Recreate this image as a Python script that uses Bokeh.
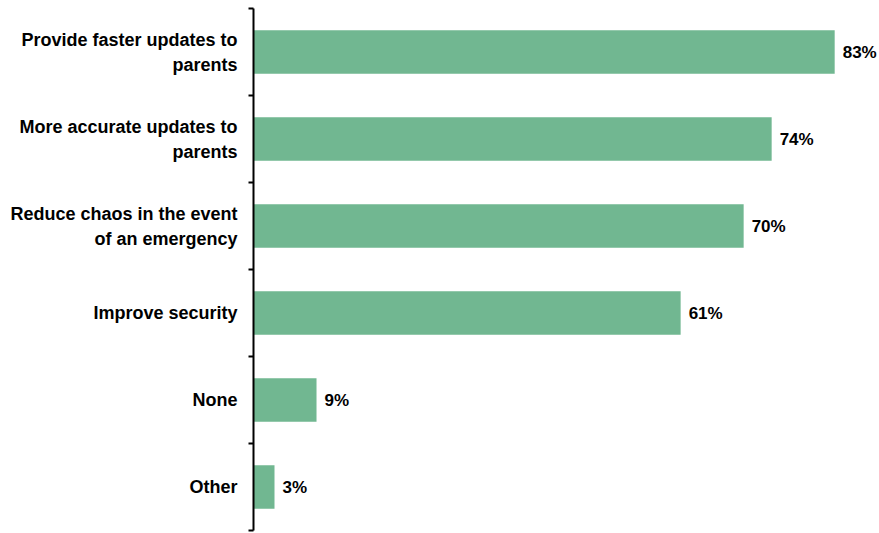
from bokeh.plotting import figure
from bokeh.models import Range1d, FixedTicker, ColumnDataSource
from bokeh.core.properties import value
from bokeh.embed import file_html
from bokeh.resources import INLINE

categories = ["Provide faster updates to\nparents", "More accurate updates to\nparents",
              "Reduce chaos in the event\nof an emergency", "Improve security", "None", "Other"]
values = [83, 74, 70, 61, 9, 3]
value_labels = ["83%", "74%", "70%", "61%", "9%", "3%"]

n = len(categories)
ypos = [n - i - 0.5 for i in range(n)]

p = figure(width=879, height=532, output_backend="svg", toolbar_location=None,
           x_range=Range1d(0, 89.4), y_range=Range1d(0, n),
           min_border_left=253, min_border_right=0, min_border_top=8, min_border_bottom=2)
p.outline_line_color = None
p.grid.grid_line_color = None
p.xaxis.visible = False

src = ColumnDataSource(dict(y=ypos, v=values, lab=value_labels))
p.hbar(y="y", right="v", left=0, height=0.5, source=src, fill_color="#71B791", line_color=None)
p.text(x="v", y="y", text="lab", source=src, x_offset=8, text_baseline="middle", text_align="left",
       text_font=value("Liberation Sans"), text_font_style="bold", text_font_size="17px", text_color="#000000")

ax = p.yaxis[0]
ax.ticker = FixedTicker(ticks=ypos, minor_ticks=list(range(n + 1)))
ax.major_label_overrides = {y: c for y, c in zip(ypos, categories)}
ax.axis_line_color = "black"
ax.axis_line_width = 2
ax.major_tick_line_color = None
ax.major_tick_out = 0
ax.major_tick_in = 0
ax.minor_tick_line_color = "black"
ax.minor_tick_line_width = 2
ax.minor_tick_out = 5
ax.minor_tick_in = 0
ax.major_label_standoff = 11
ax.major_label_text_font = "Liberation Sans"
ax.major_label_text_font_style = "bold"
ax.major_label_text_font_size = "18px"
ax.major_label_text_color = "black"
ax.major_label_text_line_height = 1.25
ax.major_label_text_align = "center"

open("out.html", "w").write(file_html(p, INLINE))
